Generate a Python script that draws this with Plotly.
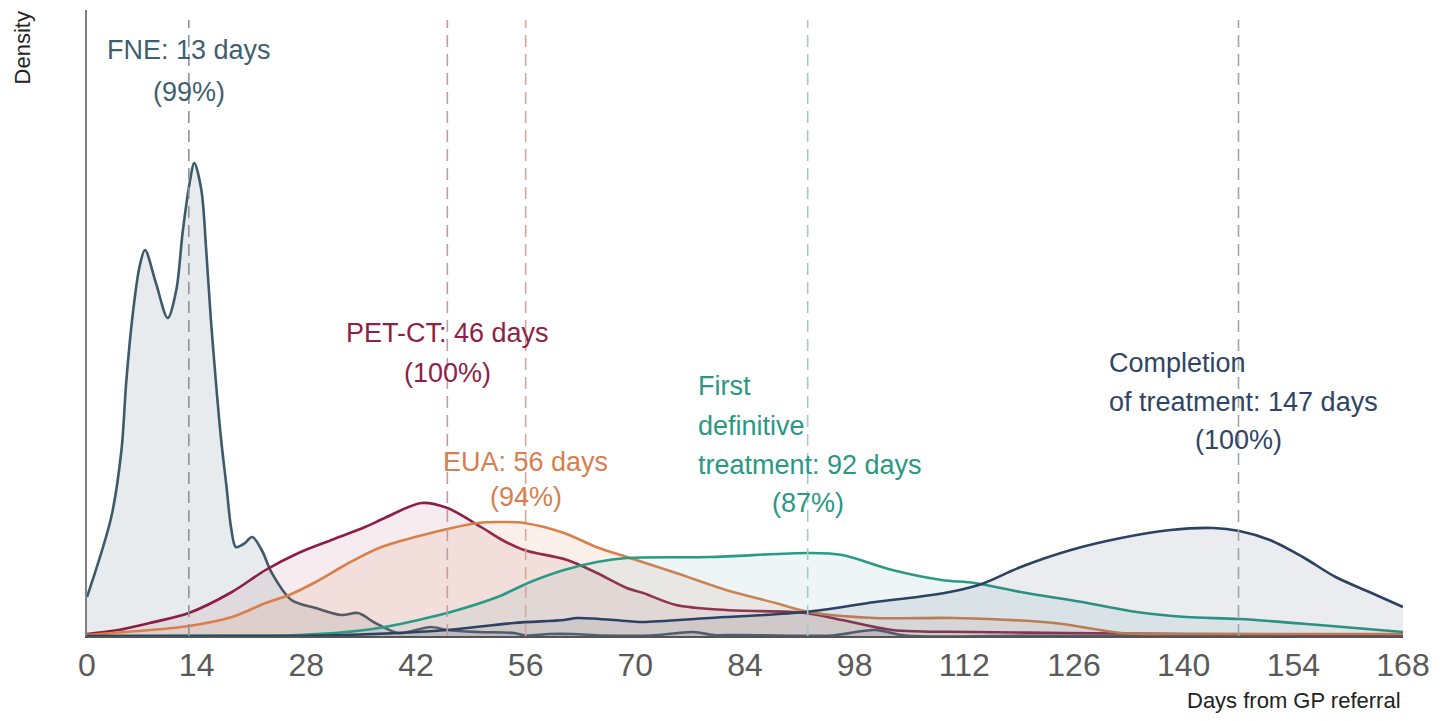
import plotly.graph_objects as go

# ---------------- data (density in arbitrary units x1e-3) ----------------
fne_days = [0, 3.1, 4.4, 5.0, 5.8, 6.7, 7.4, 8.8, 10.3, 11.4, 12.2, 13.1, 13.7, 14.6, 15.2, 15.8,
            16.5, 17.1, 17.8, 18.4, 19.0, 20.0, 21.1, 22.3, 23.6, 26.1, 29.2, 32.5, 34.6, 36.8,
            39.7, 42.0, 43.9, 46.0, 50.0, 54.5, 56.0, 59.0, 62.0, 66.0, 72.0, 77.4, 80.0, 82.9,
            88.0, 95.0, 100.6, 104.4, 120.0, 168.0]
fne_dens = [3.9, 11.9, 18.6, 25.3, 31.9, 36.9, 38.6, 35.3, 31.8, 34.6, 40.3, 45.3, 47.3, 44.6, 38.8, 31.8,
            25.0, 19.8, 15.0, 10.8, 8.9, 9.2, 9.9, 8.6, 6.3, 3.6, 2.8, 2.1, 2.3, 1.3,
            0.3, 0.6, 0.9, 0.6, 0.4, 0.3, 0.05, 0.2, 0.2, 0.05, 0.05, 0.4, 0.1, 0.1,
            0.05, 0.05, 0.6, 0.05, 0.02, 0.0]

pet_days = [0, 4, 8, 13, 18.5, 22.8, 27, 31.2, 35.5, 38, 42.7, 46, 50.3, 53, 55.8, 61.3, 65.1, 68.9,
            71, 75.2, 81.6, 91.7, 96.4, 102.8, 113, 125, 140, 168]
pet_dens = [0.2, 0.6, 1.3, 2.3, 4.4, 6.6, 8.3, 9.6, 10.9, 11.8, 13.3, 12.8, 10.9, 9.6, 8.6, 7.6, 6.3, 4.8,
            4.3, 3.1, 2.6, 2.3, 1.6, 0.6, 0.4, 0.3, 0.2, 0.1]

eua_days = [0, 5, 13, 18.5, 22.8, 25.8, 29.2, 33.4, 37.6, 43.9, 49.9, 52.8, 55.8, 60.9, 65, 68.9,
            75.2, 81.6, 87.9, 92.1, 100.6, 110.8, 123.5, 132, 140, 168]
eua_dens = [0.1, 0.4, 1.0, 1.9, 3.3, 4.1, 5.4, 7.3, 8.9, 10.3, 11.3, 11.4, 11.3, 10.3, 8.9, 7.9,
            6.3, 4.6, 3.3, 2.4, 1.8, 1.8, 1.3, 0.3, 0.2, 0.2]

fdt_days = [0, 20, 27, 35.5, 40, 43.9, 46, 52.4, 56.6, 60.9, 65.1, 68.9, 79.5, 92.1, 96.4, 102.8,
            109.1, 113.3, 119.2, 127.7, 134, 140.3, 147.1, 157.3, 168]
fdt_dens = [0, 0.05, 0.1, 0.6, 1.2, 1.9, 2.3, 3.9, 5.4, 6.6, 7.4, 7.8, 7.9, 8.3, 8.1, 6.6,
            5.6, 5.3, 4.4, 3.3, 2.4, 1.9, 1.7, 1.1, 0.4]

cot_days = [0, 30, 39.7, 46, 54.5, 60.9, 62.6, 68.9, 71, 79.5, 91.7, 100.6, 106, 110.8, 114.2, 119.2,
            125.6, 132, 138.3, 143.8, 147.1, 151, 155.2, 159.4, 163.7, 168]
cot_dens = [0, 0.05, 0.3, 0.6, 1.3, 1.6, 1.8, 1.5, 1.4, 1.8, 2.4, 3.4, 3.9, 4.5, 5.2, 6.9,
            8.6, 9.8, 10.6, 10.8, 10.5, 9.6, 7.9, 5.9, 4.4, 2.9]

milestones = ["FNE", "PET-CT", "EUA", "First definitive treatment", "Completion of treatment"]
median_days = [13, 46, 56, 92, 147]
pct_within = [99, 100, 94, 87, 100]
n_patients = 585
tick_vals = list(range(0, 169, 14))

# ---------------- styles ----------------
line_cols = ["#3d5a6b", "#8c1d47", "#d9804a", "#2a9a84", "#2d4262"]
fill_cols = ["rgba(61,90,107,0.12)", "rgba(160,40,80,0.09)", "rgba(217,128,74,0.12)",
             "rgba(80,160,175,0.10)", "rgba(45,66,98,0.10)"]
dash_cols = ["#8e9398", "#c49aa7", "#d6a79d", "#a9c7c6", "#a0a3a6"]
txt_cols = ["#3f5f70", "#8e1f45", "#d77f4f", "#2a9882", "#2f4565"]

series = [(fne_days, fne_dens), (pet_days, pet_dens), (eua_days, eua_dens),
          (fdt_days, fdt_dens), (cot_days, cot_dens)]

fig = go.Figure()
for i, (xs, ys) in enumerate(series):
    fig.add_trace(go.Scatter(
        x=xs, y=ys, mode="lines", name=milestones[i],
        line=dict(color=line_cols[i], width=2.6, shape="spline", smoothing=0.9),
        fill="tozeroy", fillcolor=fill_cols[i], showlegend=False, hoverinfo="skip"))

# dashed median lines
for i, d in enumerate(median_days):
    fig.add_shape(type="line", x0=d, x1=d, y0=0, y1=61.6, xref="x", yref="y",
                  line=dict(color=dash_cols[i], width=1.6, dash="12px,7px"), layer="above")

TXT_FONT = "Liberation Sans, Arial, sans-serif"
FS = 27
ann = []
def add(text, x, y, col, anchor="center"):
    ann.append(dict(text=text, x=x, y=y, xref="x", yref="y", showarrow=False,
                    xanchor=anchor, yanchor="middle",
                    font=dict(family=TXT_FONT, size=FS, color=col)))

# FNE
add(f"{milestones[0]}: {median_days[0]} days", median_days[0], 58.6, txt_cols[0])
add(f"({pct_within[0]}%)", median_days[0], 54.4, txt_cols[0])
# PET-CT
add(f"{milestones[1]}: {median_days[1]} days", median_days[1], 30.3, txt_cols[1])
add(f"({pct_within[1]}%)", median_days[1], 26.3, txt_cols[1])
# EUA
add(f"{milestones[2]}: {median_days[2]} days", median_days[2], 17.4, txt_cols[2])
add(f"({pct_within[2]}%)", median_days[2], 13.9, txt_cols[2])
# First definitive treatment
add("First", median_days[3] - 14.2, 25.0, txt_cols[3], "left")
add("definitive", median_days[3] - 14.2, 21.0, txt_cols[3], "left")
add(f"treatment: {median_days[3]} days", median_days[3] - 14.2, 17.1, txt_cols[3], "left")
add(f"({pct_within[3]}%)", median_days[3], 13.3, txt_cols[3])
# Completion
add("Completion", median_days[4] - 16.8, 27.3, txt_cols[4], "left")
add(f"of treatment: {median_days[4]} days", median_days[4] - 16.8, 23.4, txt_cols[4], "left")
add(f"({pct_within[4]}%)", median_days[4], 19.6, txt_cols[4])

W, H = 1440, 721
ML, MR, MT, MB = 87, 29, 10, 85
def py2paper(py):
    return ((H - MB) - py) / (H - MT - MB)

# axis titles and n
ann.append(dict(text="Density", x=(22 - ML) / (W - ML - MR), y=py2paper(48), xref="paper", yref="paper",
                showarrow=False, textangle=-90, xanchor="center", yanchor="middle",
                font=dict(family=TXT_FONT, size=22, color="#222")))
ann.append(dict(text="Days from GP referral", x=168.0, y=py2paper(700), xref="x", yref="paper",
                showarrow=False, xanchor="right", yanchor="middle",
                font=dict(family=TXT_FONT, size=22, color="#222")))
ann.append(dict(text=f"(n = {n_patients})", x=168.1, y=py2paper(21), xref="x", yref="paper",
                showarrow=False, xanchor="right", yanchor="middle",
                font=dict(family=TXT_FONT, size=27, color="#111")))

fig.update_layout(
    width=W, height=H,
    margin=dict(l=ML, r=MR, t=MT, b=MB, pad=0),
    paper_bgcolor="white", plot_bgcolor="white",
    annotations=ann,
    xaxis=dict(range=[0, 168], tickvals=tick_vals, ticktext=[str(v) for v in tick_vals],
               showgrid=False, zeroline=False, showline=True, linecolor="#555", linewidth=2,
               ticks="", tickfont=dict(family="Liberation Sans Narrow, Arial Narrow, sans-serif",
                                       size=32, color="#5a5a5a")),
    yaxis=dict(range=[0, 62.6], showticklabels=False, showgrid=False, zeroline=False,
               showline=True, linecolor="#808080", linewidth=1.5, ticks=""),
)

fig.write_html("out.html")
